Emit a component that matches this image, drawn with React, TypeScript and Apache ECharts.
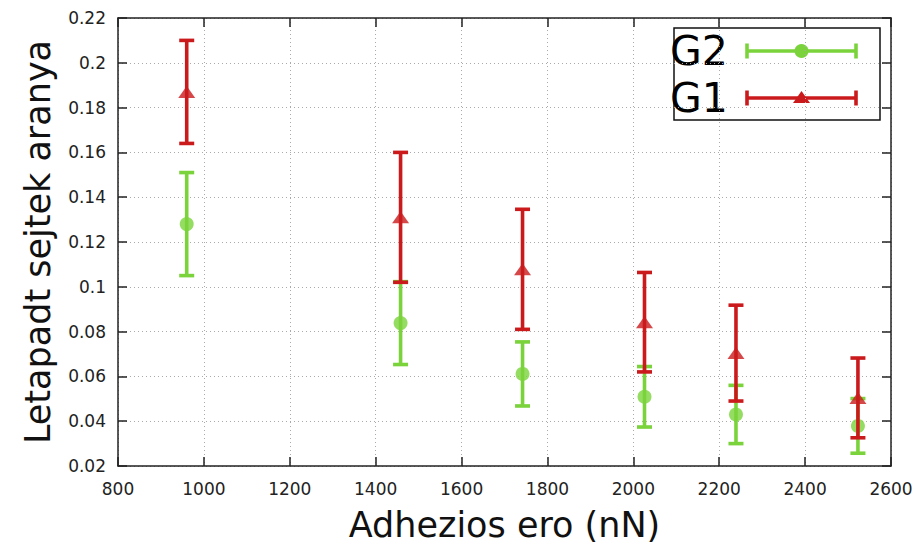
import React, { useEffect, useRef } from "react";
import * as echarts from "echarts";

const xValues = [960, 1458, 1742, 2026, 2239, 2523];
const g2Values = [0.128, 0.0838, 0.0611, 0.0509, 0.043, 0.0379];
const g2Errors = [0.023, 0.0185, 0.0143, 0.0135, 0.013, 0.0122];
const g1Values = [0.187, 0.131, 0.1078, 0.0842, 0.0704, 0.0504];
const g1Errors = [0.023, 0.029, 0.0268, 0.0222, 0.0214, 0.0178];
const seriesNames = ["G2", "G1"];

const GREEN = "#7ad33b";
const RED = "#cb1a1c";
const FONT = "DejaVu Sans";

function errorRows(vals: number[], errs: number[]) {
  return xValues.map((x, i) => [x, vals[i], vals[i] - errs[i], vals[i] + errs[i]]);
}

function errorSeries(name: string, color: string, vals: number[], errs: number[], z: number) {
  return {
    name,
    type: "custom",
    z,
    data: errorRows(vals, errs),
    renderItem: (params: any, api: any) => {
      const x = api.value(0);
      const lo = api.coord([x, api.value(2)]);
      const hi = api.coord([x, api.value(3)]);
      const cw = 7.5;
      const st = { stroke: color, lineWidth: 3.6 };
      return {
        type: "group",
        children: [
          { type: "line", shape: { x1: lo[0], y1: lo[1], x2: hi[0], y2: hi[1] }, style: st },
          { type: "line", shape: { x1: lo[0] - cw, y1: lo[1], x2: lo[0] + cw, y2: lo[1] }, style: st },
          { type: "line", shape: { x1: hi[0] - cw, y1: hi[1], x2: hi[0] + cw, y2: hi[1] }, style: st },
        ],
      };
    },
  };
}

export default function App() {
  const ref = useRef<HTMLDivElement>(null);
  useEffect(() => {
    if (!ref.current) return;
    const chart = echarts.init(ref.current, undefined, { renderer: "svg" });
    const axisLine = { show: true, lineStyle: { color: "#222", width: 1.5 } };
    const axisTick = { show: true, inside: true, length: 9, lineStyle: { color: "#222", width: 1.5 } };
    const splitLine = { show: true, lineStyle: { color: "#aaaaaa", type: [1, 3], width: 1 } };
    const label = { color: "#222", fontSize: 17, fontFamily: FONT };

    const legendItem = (y: number, name: string, color: string, marker: any) => ({
      type: "group",
      children: [
        { type: "text", x: 670, y, style: { text: name, fontSize: 41, fontFamily: FONT, fill: "#000", verticalAlign: "middle", align: "left" } },
        { type: "line", shape: { x1: 747, y1: y, x2: 856, y2: y }, style: { stroke: color, lineWidth: 3.6 } },
        { type: "line", shape: { x1: 747, y1: y - 7.5, x2: 747, y2: y + 7.5 }, style: { stroke: color, lineWidth: 3.6 } },
        { type: "line", shape: { x1: 856, y1: y - 7.5, x2: 856, y2: y + 7.5 }, style: { stroke: color, lineWidth: 3.6 } },
        marker,
      ],
    });

    chart.setOption({
      animation: false,
      grid: { left: 118, right: 27, top: 18, bottom: 79 },
      xAxis: [
        {
          type: "value", min: 800, max: 2600, interval: 200,
          axisLine, axisTick, splitLine,
          axisLabel: { ...label, margin: 14, formatter: (v: number) => String(v) },
          name: "Adhezios ero (nN)", nameLocation: "middle", nameGap: 41,
          nameTextStyle: { fontSize: 35, fontFamily: FONT, color: "#111" },
        },
        {
          type: "value", position: "top", min: 800, max: 2600, interval: 200,
          axisLine, axisTick, splitLine: { show: false }, axisLabel: { show: false },
        },
      ],
      yAxis: [
        {
          type: "value", min: 0.02, max: 0.22, interval: 0.02,
          axisLine, axisTick, splitLine,
          axisLabel: { ...label, margin: 12, formatter: (v: number) => String(+v.toFixed(2)) },
          name: "Letapadt sejtek aranya", nameLocation: "middle", nameGap: 63, nameRotate: 90,
          nameTextStyle: { fontSize: 35, fontFamily: FONT, color: "#111" },
        },
        {
          type: "value", position: "right", min: 0.02, max: 0.22, interval: 0.02,
          axisLine, axisTick, splitLine: { show: false }, axisLabel: { show: false },
        },
      ],
      series: [
        errorSeries(seriesNames[0], GREEN, g2Values, g2Errors, 2),
        {
          name: seriesNames[0], type: "scatter", z: 3,
          data: xValues.map((x, i) => [x, g2Values[i]]),
          symbol: "circle", symbolSize: 14, itemStyle: { color: GREEN },
        },
        errorSeries(seriesNames[1], RED, g1Values, g1Errors, 4),
        {
          name: seriesNames[1], type: "scatter", z: 5,
          data: xValues.map((x, i) => [x, g1Values[i]]),
          symbol: "triangle", symbolSize: [17, 12], itemStyle: { color: RED },
        },
      ],
      graphic: [
        {
          type: "group", z: 100,
          children: [
            { type: "rect", shape: { x: 674, y: 28, width: 206, height: 92 }, style: { fill: "#fff", stroke: "#111", lineWidth: 1.5 } },
            legendItem(51, seriesNames[0], GREEN, { type: "circle", shape: { cx: 801.5, cy: 51, r: 7 }, style: { fill: GREEN } }),
            legendItem(98, seriesNames[1], RED, { type: "polygon", shape: { points: [[801.5, 91], [810, 103], [793, 103]] }, style: { fill: RED } }),
          ],
        },
      ],
    });
    return () => chart.dispose();
  }, []);
  return <div ref={ref} style={{ width: 918, height: 547, position: "absolute", left: 0, top: 0 }} />;
}
